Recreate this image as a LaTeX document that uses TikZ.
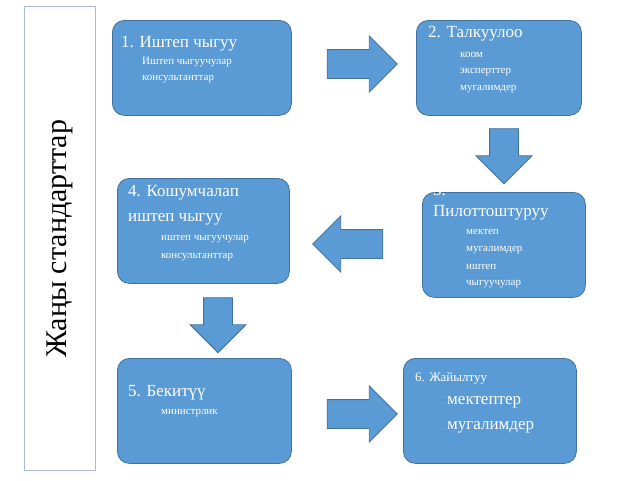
\documentclass[tikz,border=0pt]{standalone}
\usepackage{fontspec}
\setmainfont{Liberation Serif}
\usetikzlibrary{shapes.arrows}
\definecolor{stepfill}{HTML}{5B9BD5}
\definecolor{stepline}{HTML}{41719C}
\definecolor{frameline}{HTML}{A9BCD0}
\tikzset{
    stepbox/.style = {rectangle, rounded corners = 12pt, fill = stepfill, draw = stepline, line width = 0.8pt, anchor = north west},
    title/.style = {anchor = west, text = white, font = \fontsize{17}{17}\selectfont, inner sep = 0pt},
    sub/.style = {anchor = west, text = white, font = \fontsize{11}{11}\selectfont, inner sep = 0pt},
    flow/.style = {single arrow, fill = stepfill, draw = stepline, line width = 0.8pt, inner sep = 14pt, single arrow head extend = 13.5pt, minimum width = 55pt}
}
\begin{document}
\begin{tikzpicture}[x = 1pt, y = -1pt]
        \useasboundingbox (0,0) rectangle (640,480);
        % frame with vertical heading
        \node [draw = frameline, line width = 1pt, minimum width = 71pt, minimum height = 464pt, anchor = north west] (frame) at (24,6) {};
        \node [rotate = 90, font = \fontsize{30}{30}\selectfont] (head) at (frame.center) {Жаңы стандарттар};
        % boxes
        \node [stepbox, minimum width = 179pt, minimum height = 95pt] (b1) at (112,20) {};
        \node [stepbox, minimum width = 165pt, minimum height = 95pt] (b2) at (416,20) {};
        \node [stepbox, minimum width = 163pt, minimum height = 105pt] (b3) at (422,192) {};
        \node [stepbox, minimum width = 172pt, minimum height = 105pt] (b4) at (117,178) {};
        \node [stepbox, minimum width = 174pt, minimum height = 105pt] (b5) at (117,358) {};
        \node [stepbox, minimum width = 173pt, minimum height = 105pt] (b6) at (403,358) {};
        % texts
        \node [title] (t1) at (121,44) {1. Иштеп чыгуу};
        \node [sub] (s1a) at (142,62) {Иштеп чыгуучулар};
        \node [sub] (s1b) at (142,79) {консультанттар};
        \node [title] (t2) at (428,34) {2. Талкуулоо};
        \node [sub] (s2a) at (460,55) {коом};
        \node [sub] (s2b) at (460,72) {эксперттер};
        \node [sub] (s2c) at (460,89) {мугалимдер};
        \node [title] (t3a) at (433,190) {3.};
        \node [title] (t3b) at (433,213) {Пилоттоштуруу};
        \node [sub] (s3a) at (466,232) {мектеп};
        \node [sub] (s3b) at (466,250) {мугалимдер};
        \node [sub] (s3c) at (466,267) {иштеп};
        \node [sub] (s3d) at (466,284) {чыгуучулар};
        \node [title] (t4a) at (128,193) {4. Кошумчалап};
        \node [title] (t4b) at (128,219) {иштеп чыгуу};
        \node [sub] (s4a) at (161,239) {иштеп чыгуучулар};
        \node [sub] (s4b) at (161,257) {консультанттар};
        \node [title] (t5) at (128,393) {5. Бекитүү};
        \node [sub] (s5) at (161,413) {министрлик};
        \node [title, font = \fontsize{13}{13}\selectfont] (t6) at (415,378) {6. Жайылтуу};
        \node [title] (s6a) at (447,402) {мектептер};
        \node [title] (s6b) at (447,427) {мугалимдер};
        % arrows
        \node [flow, minimum height = 70pt] (a12) at (355,64) {};
        \node [flow, minimum height = 55pt, rotate = -90] (a23) at (504,149) {};
        \node [flow, minimum height = 70pt, rotate = 180] (a34) at (355,244) {};
        \node [flow, minimum height = 55pt, rotate = -90] (a45) at (218,318) {};
        \node [flow, minimum height = 70pt] (a56) at (355,414) {};
    \end{tikzpicture}
\end{document}
